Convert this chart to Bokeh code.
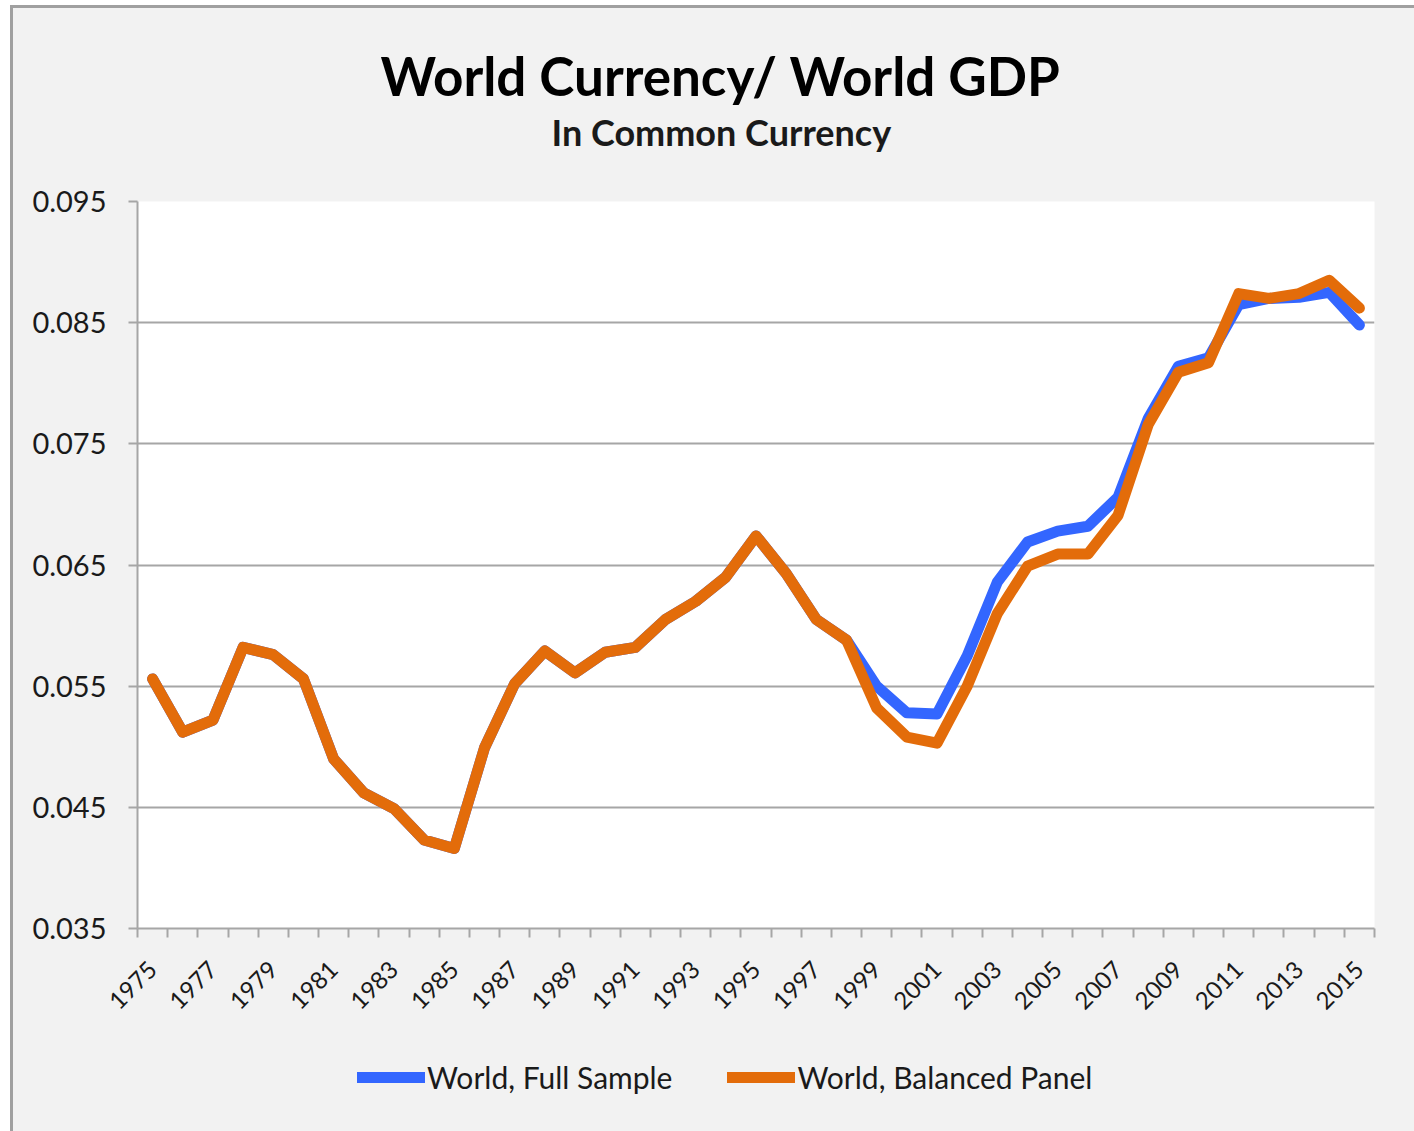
import math
from bokeh.plotting import figure
from bokeh.layouts import column
from bokeh.models import (FixedTicker, PrintfTickFormatter, Legend, LegendItem,
                          Title, Range1d, ColumnDataSource)
from bokeh.embed import file_html
from bokeh.resources import INLINE

# ---------------- data ----------------
years = list(range(1975, 2016))

full_sample = [
    0.0556, 0.0512, 0.0522, 0.0582, 0.0576, 0.0556, 0.0490, 0.0462, 0.0449, 0.0423,
    0.0416, 0.0499, 0.0552, 0.0579, 0.0561, 0.0578, 0.0582, 0.0605, 0.0620, 0.0640,
    0.0674, 0.0643, 0.0605, 0.0588, 0.0550, 0.0528, 0.0527, 0.0575, 0.0636, 0.0669,
    0.0678, 0.0682, 0.0706, 0.0771, 0.0814, 0.0821, 0.0865, 0.0870, 0.0871, 0.0875,
    0.0848,
]

balanced_panel = [
    0.0556, 0.0512, 0.0522, 0.0582, 0.0576, 0.0556, 0.0490, 0.0462, 0.0449, 0.0423,
    0.0416, 0.0499, 0.0552, 0.0579, 0.0561, 0.0578, 0.0582, 0.0605, 0.0620, 0.0640,
    0.0674, 0.0643, 0.0605, 0.0588, 0.0532, 0.0508, 0.0503, 0.0550, 0.0610, 0.0649,
    0.0659, 0.0659, 0.0691, 0.0766, 0.0809, 0.0817, 0.0874, 0.0870, 0.0874, 0.0885,
    0.0862,
]

y_ticks = [0.035, 0.045, 0.055, 0.065, 0.075, 0.085, 0.095]
x_label_years = years[::2]

title_text = "World Currency/ World GDP"
subtitle_text = "In Common Currency"
series_names = ["World, Full Sample", "World, Balanced Panel"]
series_colors = ["#3366ff", "#e36c0a"]

FONT = "Lato"
GRAY = "#a6a6a6"
TEXT = "#1a1a1a"
BG = "#f2f2f2"

src = ColumnDataSource(dict(year=years, full=full_sample, bal=balanced_panel))

# ---------------- main chart ----------------
p = figure(
    frame_width=1237, frame_height=727,
    x_range=Range1d(years[0] - 0.5, years[-1] + 0.5),
    y_range=Range1d(y_ticks[0], y_ticks[-1]),
    output_backend="svg", toolbar_location=None, tools="",
    min_border_left=124, min_border_right=40,
    min_border_top=193, min_border_bottom=112,
)
p.border_fill_color = BG
p.background_fill_color = "#ffffff"
p.outline_line_color = None

# titles
sub = Title(text=subtitle_text, align="left", text_font=FONT,
            text_font_size="36px", text_font_style="bold", text_color=TEXT,
            standoff=96, offset=414)
p.add_layout(sub, "above")
main = Title(text=title_text, align="left", text_font=FONT,
             text_font_size="53px", text_font_style="bold", text_color="#000000",
             standoff=-94, offset=243)
p.add_layout(main, "above")

# lines
p.line("year", "full", source=src, line_color=series_colors[0],
       line_width=11, line_join="round", line_cap="round")
p.line("year", "bal", source=src, line_color=series_colors[1],
       line_width=11, line_join="round", line_cap="round")

# x axis
xa = p.xaxis[0]
xa.ticker = FixedTicker(ticks=x_label_years,
                        minor_ticks=[y - 0.5 for y in years] + [years[-1] + 0.5])
xa.major_label_orientation = math.pi / 4
xa.major_tick_out = 0
xa.major_tick_in = 0
xa.minor_tick_out = 9
xa.minor_tick_in = 0
xa.minor_tick_line_color = GRAY
xa.minor_tick_line_width = 2
xa.axis_line_color = GRAY
xa.axis_line_width = 2
xa.major_label_text_font = FONT
xa.major_label_text_font_size = "24px"
xa.major_label_text_color = TEXT
xa.major_label_standoff = 28

# y axis
ya = p.yaxis[0]
ya.ticker = FixedTicker(ticks=y_ticks)
ya.formatter = PrintfTickFormatter(format="%.3f")
ya.major_tick_out = 9
ya.major_tick_in = 0
ya.minor_tick_out = 0
ya.minor_tick_in = 0
ya.major_tick_line_color = GRAY
ya.major_tick_line_width = 2
ya.axis_line_color = GRAY
ya.axis_line_width = 2
ya.major_label_text_font = FONT
ya.major_label_text_font_size = "29px"
ya.major_label_text_color = TEXT
ya.major_label_standoff = 22

# grid
p.xgrid.grid_line_color = None
p.ygrid.ticker = FixedTicker(ticks=y_ticks)
p.ygrid.grid_line_color = GRAY
p.ygrid.grid_line_width = 2

# ---------------- legend strip ----------------
# the series are drawn here too, but the view range keeps them out of sight;
# only their legend keys show
lg = figure(width=1401, height=91, output_backend="svg", toolbar_location=None,
            tools="", x_axis_type=None, y_axis_type=None,
            x_range=Range1d(0, 1), y_range=Range1d(0, 1), min_border=0)
lg.border_fill_color = BG
lg.background_fill_color = BG
lg.outline_line_color = None
k_full = lg.line("year", "full", source=src, line_color=series_colors[0],
                 line_width=11, line_cap="round")
k_bal = lg.line("year", "bal", source=src, line_color=series_colors[1],
                line_width=11, line_cap="round")
legend = Legend(
    items=[LegendItem(label=series_names[0], renderers=[k_full]),
           LegendItem(label=series_names[1], renderers=[k_bal])],
    orientation="horizontal", location=(210, 26), margin=0,
    label_text_font=FONT, label_text_font_size="30px", label_text_color=TEXT,
    glyph_width=68, glyph_height=24, label_standoff=2, spacing=55,
    background_fill_alpha=0, border_line_alpha=0, padding=10,
)
lg.add_layout(legend)

layout = column(p, lg, spacing=0)
layout.styles = {"border-left": "3px solid #a0a0a0", "border-top": "3px solid #a0a0a0",
                 "margin-left": "10px", "margin-top": "5px", "background-color": BG}

open("out.html", "w").write(file_html(layout, INLINE))
